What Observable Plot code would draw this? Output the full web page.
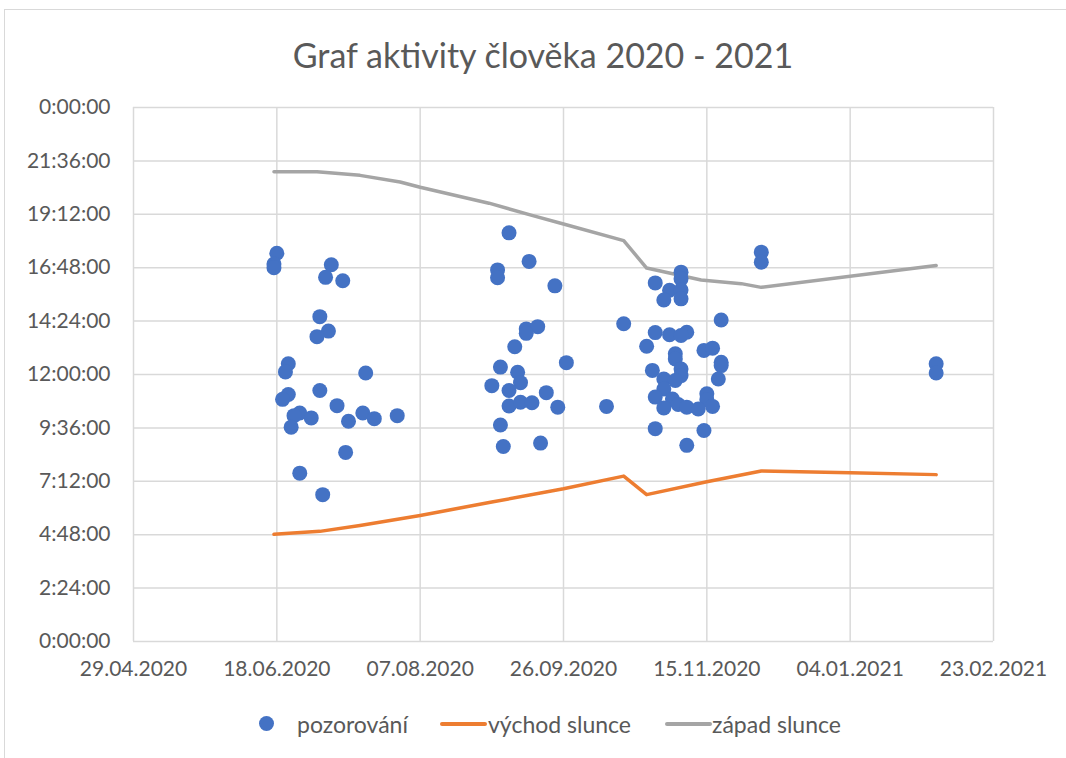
<!DOCTYPE html>
<html>
<head>
<meta charset="utf-8">
<script src="https://cdn.jsdelivr.net/npm/d3@7"></script>
<script src="https://cdn.jsdelivr.net/npm/@observablehq/plot@0.6"></script>
<style>
  html, body { margin: 0; padding: 0; background: #fff; overflow: hidden; }
  #wrap { position: relative; width: 1066px; height: 758px; font-family: Lato, "Open Sans", sans-serif; color: #595959; }
  #frame { position: absolute; left: 4px; top: 9px; width: 1200px; height: 800px; border-left: 1.5px solid #d9d9d9; border-top: 1.5px solid #d9d9d9; box-sizing: border-box; }
  #title { position: absolute; left: 0; width: 1086px; top: 34px; text-align: center; font-size: 34px; line-height: 42px; color: #595959; }
  #plot { position: absolute; left: 0; top: 90px; }
  .leg { position: absolute; top: 709px; font-size: 23px; line-height: 30px; color: #595959; white-space: nowrap; }
</style>
</head>
<body>
<div id="wrap">
  <div id="frame"></div>
  <div id="title">Graf aktivity člověka 2020 - 2021</div>
  <div id="plot"></div>
  <div id="legend"></div>
</div>
<script>
// ---- data ----
const xTickLabels = ["29.04.2020", "18.06.2020", "07.08.2020", "26.09.2020", "15.11.2020", "04.01.2021", "23.02.2021"];
const yTickLabels = ["0:00:00", "2:24:00", "4:48:00", "7:12:00", "9:36:00", "12:00:00", "14:24:00", "16:48:00", "19:12:00", "21:36:00", "0:00:00"];

const obsDates = [
  "2020-06-18","2020-06-17","2020-06-17","2020-07-07","2020-07-05","2020-07-11","2020-07-03","2020-07-06","2020-07-02",
  "2020-06-22","2020-06-21","2020-07-19","2020-06-22","2020-06-20","2020-07-03","2020-07-09","2020-06-26","2020-06-24",
  "2020-06-30","2020-06-23","2020-07-13","2020-07-18","2020-07-22","2020-07-30","2020-07-12","2020-06-26","2020-07-04",
  "2020-09-07","2020-09-14","2020-09-03","2020-09-03","2020-09-23","2020-09-13","2020-09-17","2020-09-13","2020-09-09",
  "2020-09-27","2020-09-04","2020-09-10","2020-09-11","2020-09-01","2020-09-07","2020-09-20","2020-09-07","2020-09-11",
  "2020-09-15","2020-09-24","2020-10-11","2020-09-04","2020-09-05","2020-09-18",
  "2020-11-06","2020-10-28","2020-11-06","2020-11-02","2020-11-06","2020-10-31","2020-11-06","2020-10-17","2020-11-20",
  "2020-10-28","2020-11-02","2020-11-08","2020-11-06","2020-10-25","2020-11-14","2020-11-17","2020-11-04","2020-11-04",
  "2020-11-20","2020-11-20","2020-10-27","2020-11-06","2020-11-06","2020-10-31","2020-11-04","2020-11-19","2020-10-31",
  "2020-10-28","2020-11-15","2020-11-15","2020-11-03","2020-10-31","2020-11-05","2020-11-08","2020-11-12","2020-11-17",
  "2020-10-28","2020-11-14","2020-11-08",
  "2020-12-04","2020-12-04","2021-02-03","2021-02-03"
];
const obsTimes = [
  "17:27","16:58","16:48","16:56","16:22","16:13","14:36","13:57","13:42",
  "12:29","12:07","12:04","11:06","10:53","11:17","10:36","10:16","10:09",
  "10:03","9:38","9:54","10:16","10:01","10:09","8:30","7:34","6:36",
  "18:22","17:05","16:42","16:21","15:59","14:03","14:09","13:51","13:15",
  "12:32","12:20","12:06","11:38","11:30","11:17","11:11","10:35","10:45",
  "10:44","10:32","10:34","9:44","8:46","8:55",
  "16:36","16:07","16:18","15:47","15:48","15:21","15:24","14:17","14:27",
  "13:53","13:47","13:54","13:45","13:16","13:05","13:11","12:56","12:42",
  "12:33","12:24","12:11","12:15","11:57","11:48","11:44","11:48","11:21",
  "10:59","11:08","10:52","10:54","10:30","10:39","10:32","10:27","10:34",
  "9:34","9:29","8:49",
  "17:30","17:03","12:29","12:04"
];

const sunriseDates = ["2020-06-17","2020-07-03","2020-07-17","2020-08-07","2020-09-01","2020-09-26","2020-10-17","2020-10-25","2020-11-15","2020-12-04","2021-01-04","2021-02-03"];
const sunriseTimes = ["4:49","4:57","5:13","5:40","6:16","6:52","7:26","6:36","7:11","7:40","7:35","7:30"];

const sunsetDates = ["2020-06-17","2020-07-02","2020-07-17","2020-07-31","2020-08-07","2020-08-31","2020-09-15","2020-09-26","2020-10-17","2020-10-25","2020-11-13","2020-11-27","2020-12-04","2021-02-03"];
const sunsetTimes = ["21:07","21:07","20:57","20:39","20:25","19:42","19:09","18:46","18:01","16:47","16:15","16:05","15:55","16:54"];

const seriesNames = ["pozorování", "východ slunce", "západ slunce"];
const seriesColors = ["#4472C4", "#ED7D31", "#A5A5A5"];

// ---- helpers ----
const parseD = d3.utcParse("%Y-%m-%d");
const parseTick = d3.utcParse("%d.%m.%Y");
const hrs = s => { const [h, m] = s.split(":").map(Number); return h + m / 60; };
const rows = (ds, ts) => ds.map((d, i) => ({date: parseD(d), h: hrs(ts[i])}));

const obs = rows(obsDates, obsTimes);
const sunrise = rows(sunriseDates, sunriseTimes);
const sunset = rows(sunsetDates, sunsetTimes);

const xTicks = xTickLabels.map(parseTick);
const yTicks = yTickLabels.map((_, i) => i * 2.4);

const grid = "#d9d9d9";

const chart = Plot.plot({
  width: 1066,
  height: 610,
  marginLeft: 133,
  marginRight: 73,
  marginTop: 17,
  marginBottom: 59,
  style: {fontFamily: "Lato, 'Open Sans', sans-serif", fontSize: "21px", color: "#595959", background: "transparent", overflow: "visible"},
  x: {type: "utc", domain: [xTicks[0], xTicks[xTicks.length - 1]]},
  y: {domain: [0, 24]},
  marks: [
    Plot.gridX(xTicks, {stroke: grid, strokeOpacity: 1, strokeWidth: 1.5}),
    Plot.gridY(yTicks, {stroke: grid, strokeOpacity: 1, strokeWidth: 1.5}),
    Plot.axisX(xTicks, {tickSize: 0, tickPadding: 20, tickFormat: (d, i) => xTickLabels[i], label: null, fill: "#595959"}),
    Plot.axisY(yTicks, {tickSize: 0, tickPadding: 23, tickFormat: (d, i) => yTickLabels[i], label: null, fill: "#595959"}),
    Plot.line(sunrise, {x: "date", y: "h", stroke: seriesColors[1], strokeWidth: 3.5, strokeLinecap: "round", strokeLinejoin: "round"}),
    Plot.line(sunset, {x: "date", y: "h", stroke: seriesColors[2], strokeWidth: 3.5, strokeLinecap: "round", strokeLinejoin: "round"}),
    Plot.dot(obs, {x: "date", y: "h", r: 7.5, fill: seriesColors[0], stroke: "none"})
  ]
});
document.getElementById("plot").appendChild(chart);

// ---- legend ----
const legend = document.getElementById("legend");
const legItems = [
  {kind: "dot", left: 259, textLeft: 297},
  {kind: "line", left: 440, textLeft: 488},
  {kind: "line", left: 665, textLeft: 712}
];
legItems.forEach((it, i) => {
  if (it.kind === "dot") {
    const m = document.createElement("div");
    m.style.cssText = `position:absolute;left:${it.left}px;top:716px;width:15px;height:15px;border-radius:50%;background:${seriesColors[i]};`;
    legend.appendChild(m);
  } else {
    const m = document.createElement("div");
    m.style.cssText = `position:absolute;left:${it.left}px;top:722px;width:47px;height:3.5px;border-radius:2px;background:${seriesColors[i]};`;
    legend.appendChild(m);
  }
  const t = document.createElement("div");
  t.className = "leg";
  t.style.left = it.textLeft + "px";
  t.textContent = seriesNames[i];
  legend.appendChild(t);
});
</script>
</body>
</html>
